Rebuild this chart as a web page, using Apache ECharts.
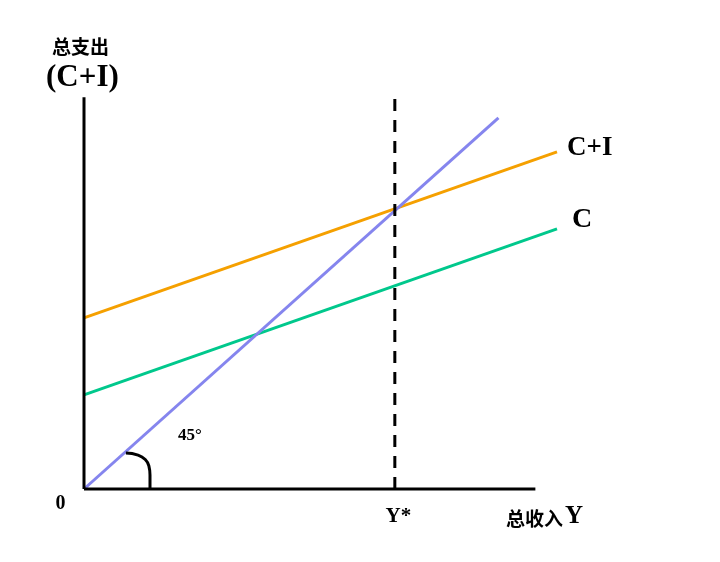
<!DOCTYPE html>
<html><head><meta charset="utf-8">
<script src="https://cdn.jsdelivr.net/npm/echarts@6/dist/echarts.min.js"></script>
<style>html,body{margin:0;padding:0;background:#fff}#c{width:720px;height:562px}</style>
</head><body><div id="c"></div>
<script>
// Data (conceptual units: x 0..105, y 0..100)
const lineDiag = [[0, 0], [92, 93]];            // 45° line
const lineCI = [[0, 42.9], [105, 84.5]];         // C+I
const lineC = [[0, 23.6], [105, 65.2]];          // C
const lineYstar = [[69, 0], [69, 99]];           // Y* dashed
const arc45 = [[9.3, 9.0], [12.0, 8.5], [13.6, 7.4], [14.4, 5.8], [14.65, 3.5], [14.65, 0]];
const axisY = [[0, 0], [0, 98.2]];
const axisX = [[0, 0], [100.2, 0]];
const labels = { yTop: '总支出', yName: '(C+I)', origin: '0', xName: '总收入', xVar: 'Y', ystar: 'Y*', ci: 'C+I', c: 'C', angle: '45°' };

const serif = '"Liberation Serif","DejaVu Serif",serif';
const cjk = '"Noto Sans CJK SC",sans-serif';
const chart = echarts.init(document.getElementById('c'));
const ln = (data, color, extra) => Object.assign({
  type: 'line', data, symbol: 'none', silent: true, clip: false,
  lineStyle: { color, width: 3 }, z: 2
}, extra || {});
const txt = (value, text, size, pos, extra) => ({
  value, label: Object.assign({ show: true, formatter: text, position: pos, fontFamily: serif, fontWeight: 'bold', fontSize: size, color: '#000', opacity: 1 }, extra || {})
});

chart.setOption({
  animation: false,
  backgroundColor: '#fff',
  grid: { left: 84, right: 163, top: 90, bottom: 73 },
  xAxis: { type: 'value', min: 0, max: 105, show: false },
  yAxis: { type: 'value', min: 0, max: 100, show: false },
  series: [
    ln(lineC, '#00c88c', { endLabel: { show: true, formatter: labels.c, fontFamily: serif, fontWeight: 'bold', fontSize: 28, color: '#000', distance: 15, offset: [0, -9] } }),
    ln(lineCI, '#f5a000', { endLabel: { show: true, formatter: labels.ci, fontFamily: serif, fontWeight: 'bold', fontSize: 27, color: '#000', distance: 10, offset: [0, -4] } }),
    ln(lineDiag, '#8585ee'),
    ln(lineYstar, '#000', { lineStyle: { color: '#000', width: 3, type: [12, 9] } }),
    ln(arc45, '#000', { smooth: true }),
    ln(axisY, '#000', { lineStyle: { color: '#000', width: 3 }, z: 3 }),
    ln(axisX, '#000', { lineStyle: { color: '#000', width: 3 }, z: 3 }),
    {
      type: 'scatter', symbolSize: 1, clip: false, silent: true,
      itemStyle: { opacity: 0 },
      data: [
        txt([69.8, 0], labels.ystar, 21, 'bottom', { distance: 17 }),
        txt([0, 0], labels.origin, 20, 'left', { offset: [-13, 15] }),
        txt([23.5, 13.3], labels.angle, 17, 'inside')
      ]
    }
  ],
  graphic: [
    { type: 'text', left: 52, top: 37, style: { text: labels.yTop, font: 'bold 19px ' + cjk, fill: '#000' } },
    { type: 'text', left: 46, top: 62, style: { text: labels.yName, font: 'bold 31px ' + serif, fill: '#000' } },
    { type: 'text', left: 506, top: 504, style: {
      text: '{a|' + labels.xName + '}{b|' + labels.xVar + '}',
      rich: { a: { font: 'bold 19px ' + cjk, fill: '#000', verticalAlign: 'bottom', padding: [0, 2, 1, 0] }, b: { font: 'bold 25px ' + serif, fill: '#000', verticalAlign: 'bottom' } }
    } }
  ]
});
</script></body></html>
